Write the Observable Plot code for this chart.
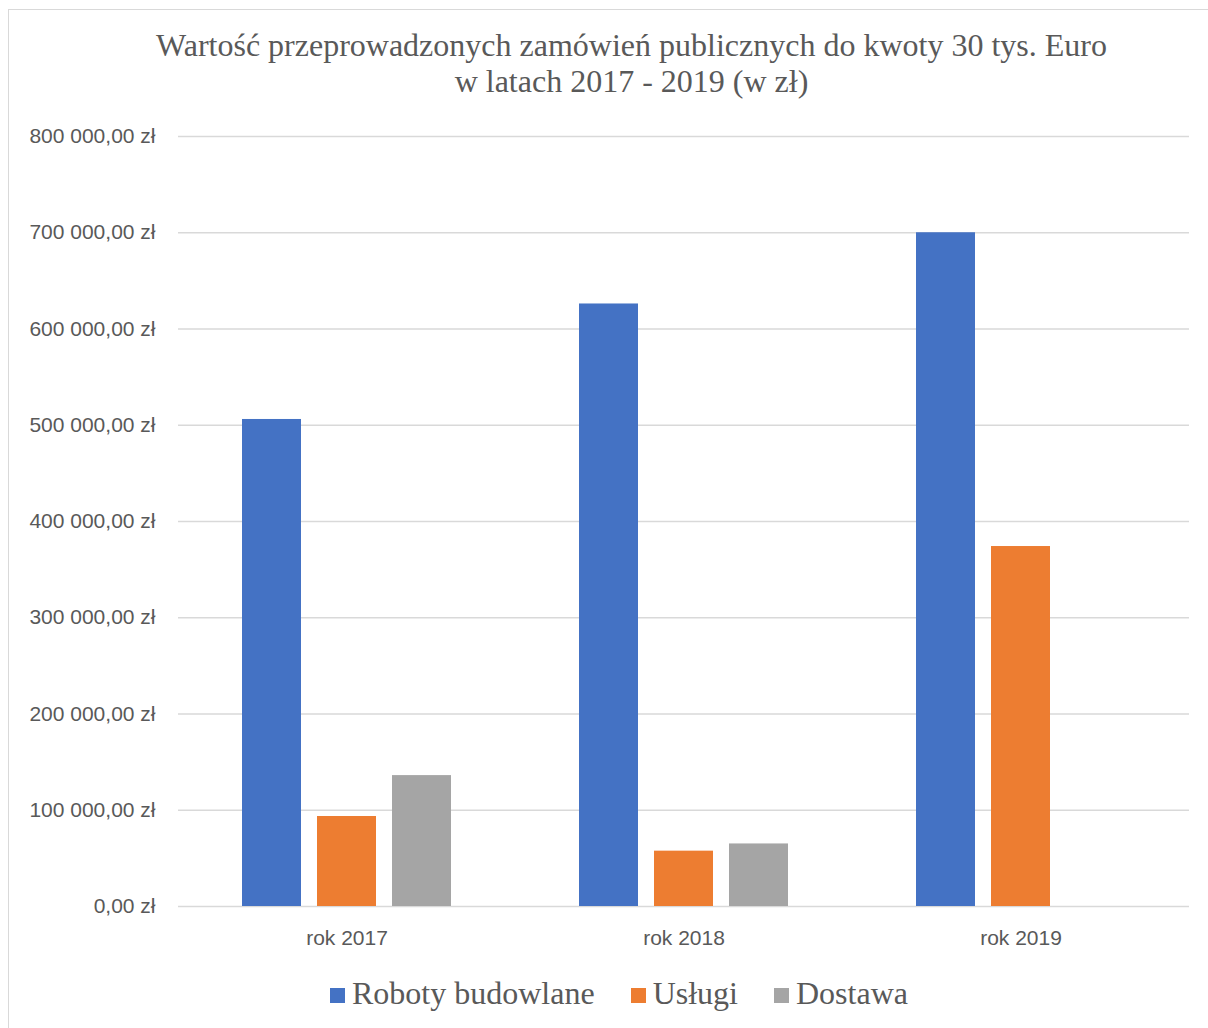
<!DOCTYPE html>
<html>
<head>
<meta charset="utf-8">
<script src="https://cdn.jsdelivr.net/npm/d3@7"></script>
<script src="https://cdn.jsdelivr.net/npm/@observablehq/plot@0.6"></script>
<style>
  html, body { margin: 0; padding: 0; background: #fff; }
  #wrap { position: relative; width: 1208px; height: 1028px; overflow: hidden; background: #fff; }
  #frame { position: absolute; left: 8px; top: 9px; width: 1247px; height: 1100px; border: 1.5px solid #d9d9d9; box-sizing: border-box; }
  #title { position: absolute; left: 8px; top: 27px; width: 1247px; text-align: center;
           font-family: "Liberation Serif", "Times New Roman", serif; font-size: 32px; line-height: 36px; color: #595959; }
  #chart { position: absolute; left: 0; top: 100px; }
  #legend { position: absolute; left: 0; top: 974px; width: 1238px; display: flex; justify-content: center; align-items: center;
            font-family: "Liberation Serif", "Times New Roman", serif; font-size: 32px; line-height: 38px; color: #595959; }
  .item { display: flex; align-items: center; margin: 0 18px; }
  .sw { width: 15px; height: 15px; margin-right: 7px; margin-top: 4px; }
</style>
</head>
<body>
<div id="wrap">
  <div id="frame"></div>
  <div id="title">Wartość przeprowadzonych zamówień publicznych do kwoty 30 tys. Euro<br>w latach 2017 - 2019 (w zł)</div>
  <div id="chart"></div>
  <div id="legend"></div>
</div>
<script>
const years = ["rok 2017", "rok 2018", "rok 2019"];
const series = ["Roboty budowlane", "Usługi", "Dostawa"];
const roboty = [506000, 626000, 700000];
const uslugi = [93500, 57500, 374000];
const dostawa = [136000, 65000, 0];
const colors = ["#4472C4", "#ED7D31", "#A5A5A5"];
const yTicks = [0, 100000, 200000, 300000, 400000, 500000, 600000, 700000, 800000];
const yTickLabels = ["0,00 zł", "100 000,00 zł", "200 000,00 zł", "300 000,00 zł", "400 000,00 zł",
                     "500 000,00 zł", "600 000,00 zł", "700 000,00 zł", "800 000,00 zł"];

const seriesValues = [roboty, uslugi, dostawa];
const data = years.flatMap((y, i) => series.map((s, j) => ({year: y, series: s, value: seriesValues[j][i]})));

const chart = Plot.plot({
  width: 1208,
  height: 880,
  marginTop: 36,
  marginBottom: 74,
  marginLeft: 178,
  marginRight: 19,
  style: {fontFamily: "'Liberation Sans', Arial, sans-serif", fontSize: "21px", color: "#595959", background: "transparent", overflow: "visible"},
  fx: {domain: years, padding: 0, label: null},
  x: {domain: series, paddingInner: 16 / 75, paddingOuter: 64 / 75, axis: null},
  y: {domain: [0, 800000], axis: null},
  color: {domain: series, range: colors},
  marks: [
    Plot.ruleY(yTicks, {stroke: "#d9d9d9", strokeWidth: 1.5}),
    Plot.barY(data, {fx: "year", x: "series", y: "value", fill: "series"}),
    Plot.axisY({ticks: yTicks, tickFormat: d => yTickLabels[yTicks.indexOf(d)], tickSize: 0, tickPadding: 23, label: null, fill: "#595959"}),
    Plot.axisFx({anchor: "bottom", tickSize: 0, tickPadding: 24, label: null, fill: "#595959"})
  ]
});
document.getElementById("chart").appendChild(chart);

const legend = document.getElementById("legend");
series.forEach((s, i) => {
  const item = document.createElement("div");
  item.className = "item";
  const sw = document.createElement("div");
  sw.className = "sw";
  sw.style.background = colors[i];
  const t = document.createElement("span");
  t.textContent = s;
  item.appendChild(sw);
  item.appendChild(t);
  legend.appendChild(item);
});
</script>
</body>
</html>
